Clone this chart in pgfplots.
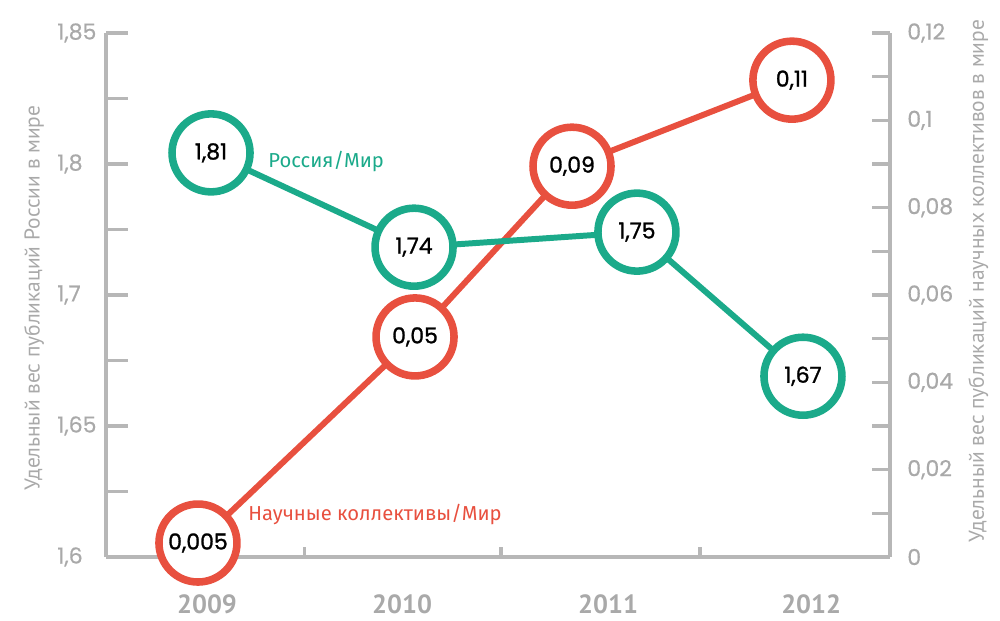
\documentclass[border=0pt]{standalone}
\usepackage{pgfplots}
\pgfplotsset{compat=1.18}
\usepackage{fontspec}
\setmainfont{Fira Sans}
\newfontfamily\numfont{Poppins}
\newfontfamily\numfontb{Poppins}[FakeBold=1.2]
\newfontfamily\tickfont{Poppins}[FakeBold=0.5]
\newfontfamily\ptsans{PT Sans}
\definecolor{cgreen}{HTML}{1BAA8A}
\definecolor{cred}{HTML}{E8503F}
\definecolor{caxis}{HTML}{B7B7B7}
\definecolor{ctext}{HTML}{A9A9A9}
\begin{document}
\begin{tikzpicture}
\path[use as bounding box] (0,0) rectangle (20cm,12.4cm);
\pgfplotsset{common/.style={at={(2.12cm,1.26cm)}, anchor=south west,
  scale only axis, width=15.68cm, height=10.48cm,
  xmin=2008.4975, xmax=2012.398, clip=false, tick align=inside,
  axis line style={caxis, line width=1.8pt, -},
  tick style={caxis, line width=1.8pt},
  ticklabel style={font=\tickfont\fontsize{12.5}{14}\selectfont, text=ctext, inner sep=0pt},
  /pgf/number format/assume math mode=true}}
% bottom axis
\begin{axis}[common, ymin=0, ymax=1, axis x line*=bottom, axis y line=none,
  xtick={2009.483,2010.463,2011.453}, xticklabels={}, major tick length=0.2cm]
\end{axis}
% right axis: research teams / world
\begin{axis}[common, ymin=0, ymax=0.12, axis x line=none, axis y line*=right,
  ytick={0,0.02,0.04,0.06,0.08,0.1,0.12},
  minor ytick={0.01,0.03,0.05,0.07,0.09,0.11},
  yticklabels={0,{0,02},{0,04},{0,06},{0,08},{0,1},{0,12}},
  major tick length=0.36cm, minor tick length=0.36cm,
  yticklabel style={anchor=west, xshift=0.34cm}]
\addplot[cred, line width=3.4pt, mark=*, mark size=0.78cm,
  mark options={solid, fill=white, draw=cred, line width=4.3pt},
  point meta=explicit symbolic, nodes near coords,
  every node near coord/.append style={anchor=center, text=black, inner sep=0pt,
    font=\numfontb\fontsize{12.5}{14}\selectfont}]
  table[x=x, y=y, meta=lab] {
x y lab
2008.955 0.0032 0,005
2010.035 0.0504 0,05
2010.816 0.0895 0,09
2011.910 0.1092 0,11
};
\end{axis}
% left axis: Russia / world
\begin{axis}[common, ymin=0, ymax=8, axis x line=none, axis y line*=left,
  ytick={0,1,2,3,4,5,6,7,8},
  yticklabels={{1,6},{},{1,65},{},{1,7},{},{1,8},{},{1,85}},
  major tick length=0.44cm,
  yticklabel style={anchor=west, xshift=-0.98cm}]
\addplot[cgreen, line width=3.4pt, mark=*, mark size=0.78cm,
  mark options={solid, fill=white, draw=cgreen, line width=4.3pt},
  point meta=explicit symbolic, nodes near coords,
  every node near coord/.append style={anchor=center, text=black, inner sep=0pt,
    font=\numfontb\fontsize{12.5}{14}\selectfont}]
  table[x=x, y=y, meta=lab] {
x y lab
2009.020 6.17 1,81
2010.030 4.73 1,74
2011.139 4.96 1,75
2011.965 2.76 1,67
};
\end{axis}
\begin{scope}[x=0.02cm, y=0.02cm]
\node[rotate=90, text=ctext, font=\ptsans\fontsize{12.2}{14}\selectfont] at (34,322) {Удельный вес публикаций России в мире};
\node[rotate=90, text=ctext, font=\ptsans\fontsize{12.2}{14}\selectfont] at (978,339) {Удельный вес публикаций научных коллективов в мире};
\foreach \xx/\yy in {207/2009, 402/2010, 608/2011, 811/2012}
  \node[text=ctext, font=\ptsans\bfseries\fontsize{15}{18}\selectfont, inner sep=0pt] at (\xx,16) {\yy};
\node[anchor=base west, inner sep=0pt, text=cgreen, font=\fontsize{11.5}{14}\selectfont] at (268,452) {Россия/Мир};
\node[anchor=base west, inner sep=0pt, text=cred, font=\fontsize{11.5}{14}\selectfont] at (248,99) {Научные коллективы/Мир};
\end{scope}
\end{tikzpicture}
\end{document}
